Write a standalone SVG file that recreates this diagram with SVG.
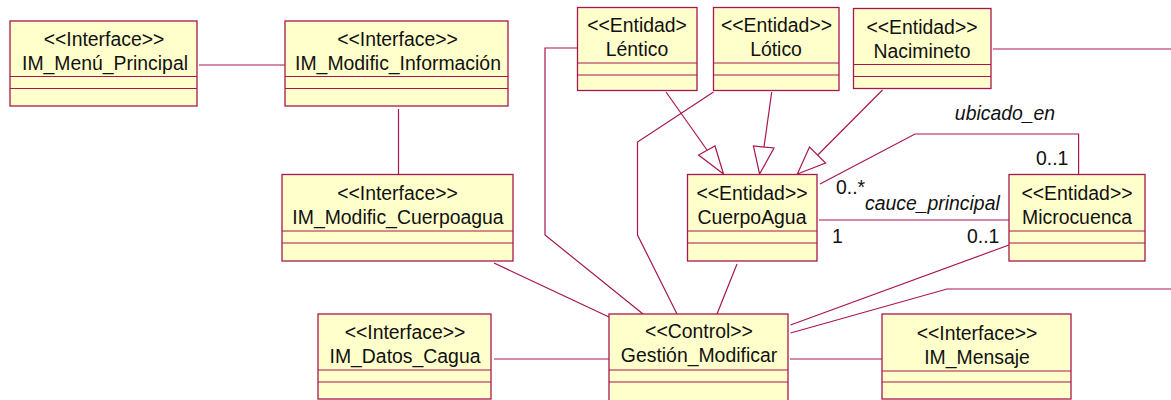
<svg xmlns="http://www.w3.org/2000/svg" width="1171" height="400" viewBox="0 0 1171 400">
<style>
text{font-family:"Liberation Sans",Arial,sans-serif;font-size:19.4px;fill:#111}
.c{text-anchor:middle}
.i{font-style:italic}
.b{fill:#ffffcc;stroke:#a8164f;stroke-width:1.3}
.d{stroke:#a8164f;stroke-width:1.2;fill:none}
#connectors polyline{fill:none;stroke:#a8164f;stroke-width:1.2}
#connectors polygon{fill:#fff;stroke:#a8164f;stroke-width:1.2}
</style>
<rect width="1171" height="400" fill="#fff"/>
<g id="connectors">
<polyline points="199,65 285,65"/>
<polyline points="398.500,109 398.500,174"/>
<polyline points="494,263 609,317"/>
<polyline points="577,48 545,48 545,235 643,314"/>
<polyline points="713.500,92 637.500,142 637.500,235 677,314"/>
<polyline points="737,264 717,314"/>
<polyline points="666,92 707,150"/>
<polygon points="723.500,174 698.600,155 715,146"/>
<polyline points="771.700,92 764,147"/>
<polygon points="759.600,174 753.400,146 774,148"/>
<polyline points="882.500,90 817.800,155"/>
<polygon points="797.400,174 809.500,147 825.600,163"/>
<polyline points="993,49 1171,49"/>
<polyline points="820,184 915,134 1078.600,134 1078.600,174"/>
<polyline points="819,220 1009,220"/>
<polyline points="1009,245 790.500,325"/>
<polyline points="790.500,333 947,289 1171,289"/>
<polyline points="494,359 609,359"/>
<polyline points="790,359 882,359"/>
</g>
<g id="menu"><rect class="b" x="10" y="21" width="187" height="85"/><path class="d" d="M10 76.500H197M10 88.500H197"/><text class="c" x="104" y="46">&lt;&lt;Interface&gt;&gt;</text><text class="c" x="105" y="70">IM_Menú_Principal</text></g>
<g id="modif-info"><rect class="b" x="285" y="21" width="223" height="85"/><path class="d" d="M285 76.500H508M285 88.500H508"/><text class="c" x="397.500" y="46">&lt;&lt;Interface&gt;&gt;</text><text class="c" x="398" y="70">IM_Modific_Información</text></g>
<g id="modif-cuerpo"><rect class="b" x="282" y="174.500" width="231" height="86.500"/><path class="d" d="M282 231H513M282 243H513"/><text class="c" x="397.500" y="200">&lt;&lt;Interface&gt;&gt;</text><text class="c" x="398" y="224">IM_Modific_Cuerpoagua</text></g>
<g id="datos"><rect class="b" x="318" y="314" width="173" height="85"/><path class="d" d="M318 370H491M318 382H491"/><text class="c" x="405" y="339">&lt;&lt;Interface&gt;&gt;</text><text class="c" x="405" y="363">IM_Datos_Cagua</text></g>
<g id="gestion"><rect class="b" x="609" y="314" width="179" height="100"/><path class="d" d="M609 370H788M609 382H788"/><text class="c" x="699" y="338">&lt;&lt;Control&gt;&gt;</text><text class="c" x="699" y="362">Gestión_Modificar</text></g>
<g id="lentico"><rect class="b" x="577.500" y="7.500" width="119.500" height="83"/><path class="d" d="M577.500 63H697M577.500 75H697"/><text class="c" x="637" y="32">&lt;&lt;Entidad&gt;</text><text class="c" x="637" y="56">Léntico</text></g>
<g id="lotico"><rect class="b" x="713.500" y="7.500" width="125.500" height="83"/><path class="d" d="M713.500 63H839M713.500 75H839"/><text class="c" x="776.500" y="32">&lt;&lt;Entidad&gt;&gt;</text><text class="c" x="776" y="56">Lótico</text></g>
<g id="nacimineto"><rect class="b" x="853.500" y="8.500" width="137.500" height="80"/><path class="d" d="M853.500 64.500H991M853.500 76.500H991"/><text class="c" x="922" y="34">&lt;&lt;Entidad&gt;&gt;</text><text class="c" x="922" y="58">Nacimineto</text></g>
<g id="cuerpoagua"><rect class="b" x="687.500" y="174.500" width="129.500" height="86.500"/><path class="d" d="M687.500 231H817M687.500 243H817"/><text class="c" x="752" y="200">&lt;&lt;Entidad&gt;&gt;</text><text class="c" x="752" y="224">CuerpoAgua</text></g>
<g id="microcuenca"><rect class="b" x="1009" y="174.500" width="136" height="86.500"/><path class="d" d="M1009 231H1145M1009 243H1145"/><text class="c" x="1077" y="200">&lt;&lt;Entidad&gt;&gt;</text><text class="c" x="1077" y="224">Microcuenca</text></g>
<g id="mensaje"><rect class="b" x="882" y="314" width="189" height="85"/><path class="d" d="M882 371H1071M882 382H1071"/><text class="c" x="977" y="340">&lt;&lt;Interface&gt;&gt;</text><text class="c" x="977" y="364">IM_Mensaje</text></g>
<g id="labels">
<text class="c i" x="1005" y="120">ubicado_en</text>
<text x="1036" y="165">0..1</text>
<text x="836" y="194">0..*</text>
<text class="i" x="865" y="210">cauce_principal</text>
<text x="832" y="243">1</text>
<text x="967" y="243">0..1</text>
</g>
</svg>
